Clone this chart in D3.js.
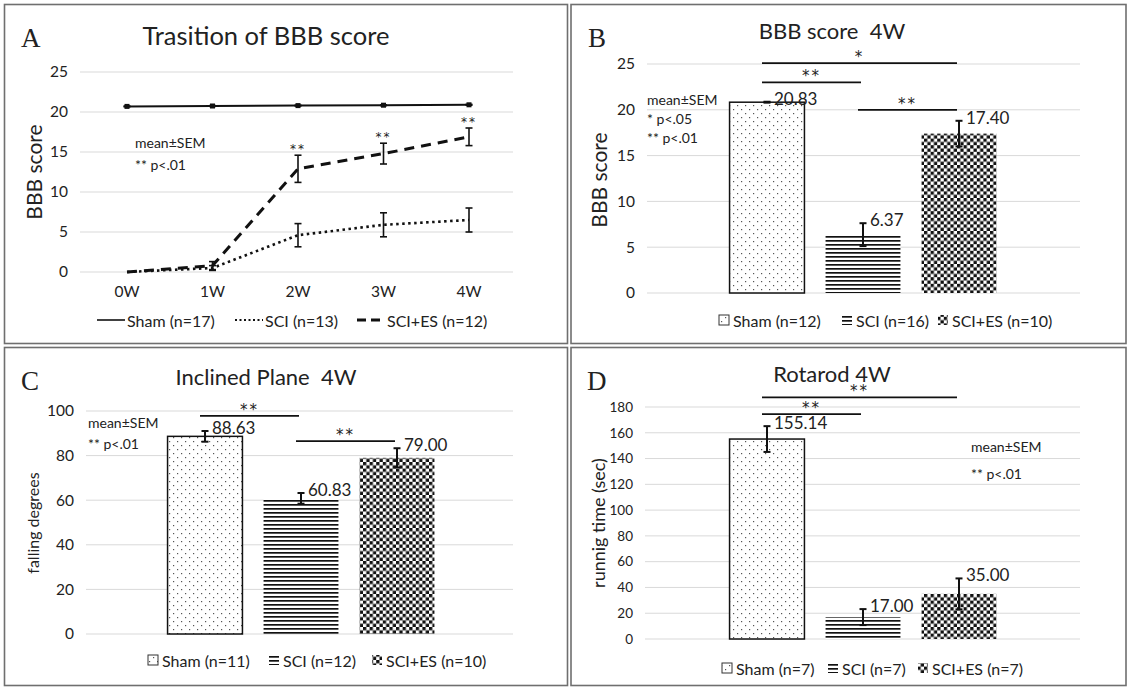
<!DOCTYPE html>
<html>
<head>
<meta charset="utf-8">
<script src="https://cdn.jsdelivr.net/npm/d3@7"></script>
<style>
  body { margin: 0; background: #fff; }
  svg text { font-family: Lato, "Noto Sans", sans-serif; fill: #222; white-space: pre; }
</style>
</head>
<body>
<svg id="fig" width="1129" height="689"></svg>
<script>
// A: BBB score over the weeks
var weeks = ["0W", "1W", "2W", "3W", "4W"];
var shamBBB = [20.7, 20.75, 20.8, 20.85, 20.9];
var shamBBBErr = [0.05, 0.05, 0.05, 0.05, 0.05];
var sciBBB = [0, 0.5, 4.6, 5.9, 6.5];
var sciBBBErr = [0, 0.3, 1.45, 1.5, 1.5];
var esBBB = [0, 0.8, 12.9, 14.8, 16.9];
var esBBBErr = [0, 0.5, 1.7, 1.3, 1.1];
var starsA = ["", "", "**", "**", "**"];
var lineLegend = ["Sham (n=17)", "SCI (n=13)", "SCI+ES (n=12)"];

// B, C, D: 4W bars
var groups = ["Sham", "SCI", "SCI+ES"];
var bbb4w = [20.83, 6.37, 17.40];
var bbb4wErr = [0.05, 1.25, 1.4];
var bbb4wN = [12, 16, 10];
var incline = [88.63, 60.83, 79.00];
var inclineErr = [2.4, 2.4, 4.3];
var inclineN = [11, 12, 10];
var rotarod = [155.14, 17.00, 35.00];
var rotarodErr = [10, 6.2, 12];
var rotarodN = [7, 7, 7];

// significance brackets: [from group, to group, height, label]
var sigB = [[0, 2, 25.1, "*"], [0, 1, 23.0, "**"], [1, 2, 20.0, "**"]];
var sigC = [[0, 1, 97.8, "**"], [1, 2, 86.5, "**"]];
var sigD = [[0, 2, 187.5, "**"], [0, 1, 174.5, "**"]];

var svg = d3.select("#fig");

// patterns
var defs = svg.append("defs");
var pDots = defs.append("pattern").attr("id", "dots")
    .attr("patternUnits", "userSpaceOnUse").attr("width", 8).attr("height", 8);
pDots.append("rect").attr("width", 8).attr("height", 8).attr("fill", "#fff");
pDots.append("rect").attr("x", 1).attr("y", 1).attr("width", 1.2).attr("height", 1.2).attr("fill", "#555");
pDots.append("rect").attr("x", 5).attr("y", 5).attr("width", 1.2).attr("height", 1.2).attr("fill", "#555");

var pLines = defs.append("pattern").attr("id", "hlines")
    .attr("patternUnits", "userSpaceOnUse").attr("width", 8).attr("height", 4);
pLines.append("rect").attr("width", 8).attr("height", 4).attr("fill", "#fff");
pLines.append("rect").attr("y", 0).attr("width", 8).attr("height", 1.7).attr("fill", "#111");

var pCheck = defs.append("pattern").attr("id", "check")
    .attr("patternUnits", "userSpaceOnUse").attr("width", 6.6).attr("height", 6.6);
pCheck.append("rect").attr("width", 6.6).attr("height", 6.6).attr("fill", "#fff");
pCheck.append("rect").attr("width", 3.3).attr("height", 3.3).attr("fill", "#111");
pCheck.append("rect").attr("x", 3.3).attr("y", 3.3).attr("width", 3.3).attr("height", 3.3).attr("fill", "#111");

var fills = ["url(#dots)", "url(#hlines)", "url(#check)"];

// panel frames
var frames = [[4.5, 4.5, 563, 339], [571, 4.5, 555, 339], [4.5, 347.5, 563, 338], [571, 347.5, 555, 338]];
svg.selectAll(".frame").data(frames).enter().append("rect")
    .attr("class", "frame")
    .attr("x", function (d) { return d[0]; })
    .attr("y", function (d) { return d[1]; })
    .attr("width", function (d) { return d[2]; })
    .attr("height", function (d) { return d[3]; })
    .attr("fill", "none").attr("stroke", "#6f6f6f").attr("stroke-width", 1.6);

function panelText(letter, lx, ly, title, tx, ty, tsize) {
  svg.append("text").attr("x", lx).attr("y", ly)
      .style("font-family", "'Liberation Serif', 'DejaVu Serif', serif")
      .attr("font-size", 27).text(letter);
  svg.append("text").attr("x", tx).attr("y", ty).attr("text-anchor", "middle")
      .attr("font-size", tsize).text(title);
}

function yAxis(y, x0, x1, ticks, fs) {
  svg.append("g").selectAll("line").data(ticks).enter().append("line")
      .attr("x1", x0).attr("x2", x1)
      .attr("y1", function (d) { return y(d); })
      .attr("y2", function (d) { return y(d); })
      .attr("stroke", "#d9d9d9").attr("stroke-width", 1);
  var g = svg.append("g").attr("transform", "translate(" + (x0 - 12) + ",0)")
      .call(d3.axisLeft(y).tickValues(ticks).tickSize(0).tickPadding(0));
  g.select(".domain").remove();
  g.selectAll("text").attr("font-size", fs).style("font-family", "Lato, 'Noto Sans', sans-serif").attr("fill", "#333");
}

function yLabel(txt, x, y, fs) {
  svg.append("text").attr("transform", "translate(" + x + "," + y + ") rotate(-90)")
      .attr("text-anchor", "middle").attr("dominant-baseline", "central")
      .attr("font-size", fs).text(txt);
}

function errBar(x, y, v, e, cap, w) {
  if (e <= 0) return;
  svg.append("line").attr("x1", x).attr("x2", x).attr("y1", y(v - e)).attr("y2", y(v + e))
      .attr("stroke", "#111").attr("stroke-width", w);
  [v - e, v + e].forEach(function (t) {
    svg.append("line").attr("x1", x - cap).attr("x2", x + cap).attr("y1", y(t)).attr("y2", y(t))
        .attr("stroke", "#111").attr("stroke-width", w);
  });
}

function notes(lines, x, y0, dy) {
  lines.forEach(function (t, i) {
    svg.append("text").attr("x", x).attr("y", y0 + i * dy).attr("font-size", 14).text(t);
  });
}

function stars(x, y, s, fs) {
  svg.append("text").attr("x", x).attr("y", y).attr("text-anchor", "middle")
      .style("font-family", "'DejaVu Sans', sans-serif")
      .attr("font-size", fs).attr("letter-spacing", 2).text(s);
}

// ---------- Panel A ----------
panelText("A", 21, 47, "Trasition of BBB score", 266, 45, 25.5);
var xA = d3.scalePoint().domain(weeks).range([127, 469]);
var yA = d3.scaleLinear().domain([0, 25]).range([272, 72]);
yAxis(yA, 80, 513, [0, 5, 10, 15, 20, 25], 15.5);
svg.append("g").selectAll("text").data(weeks).enter().append("text")
    .attr("x", function (d) { return xA(d); }).attr("y", 297)
    .attr("text-anchor", "middle").attr("font-size", 15.5).attr("fill", "#333")
    .text(function (d) { return d; });
yLabel("BBB score", 33, 172, 21);
notes(["mean\u00B1SEM", "** p<.01"], 135, 148, 22);

var seriesA = [
  {v: shamBBB, e: shamBBBErr, dash: null, w: 2},
  {v: sciBBB, e: sciBBBErr, dash: "2.5,3.5", w: 2.6},
  {v: esBBB, e: esBBBErr, dash: "10,7", w: 3}
];
var lineA = d3.line().x(function (d, i) { return xA(weeks[i]); }).y(function (d) { return yA(d); });
seriesA.forEach(function (s) {
  svg.append("path").datum(s.v).attr("d", lineA).attr("fill", "none")
      .attr("stroke", "#111").attr("stroke-width", s.w)
      .attr("stroke-dasharray", s.dash);
  s.v.forEach(function (d, i) { errBar(xA(weeks[i]), yA, d, s.e[i], 3.5, 1.6); });
});
svg.append("g").selectAll("rect").data(shamBBB).enter().append("rect")
    .attr("x", function (d, i) { return xA(weeks[i]) - 2.5; })
    .attr("y", function (d) { return yA(d) - 2.5; })
    .attr("width", 5).attr("height", 5).attr("fill", "#111");
starsA.forEach(function (s, i) {
  if (s) stars(xA(weeks[i]), yA(esBBB[i] + esBBBErr[i]) - 2, s, 12);
});

var legA = [{x: 97, dash: null, w: 1.6}, {x: 235, dash: "2,2.5", w: 2.2}, {x: 357, dash: "9,5", w: 3}];
legA.forEach(function (l, i) {
  svg.append("line").attr("x1", l.x).attr("x2", l.x + 28).attr("y1", 320).attr("y2", 320)
      .attr("stroke", "#111").attr("stroke-width", l.w).attr("stroke-dasharray", l.dash);
  svg.append("text").attr("x", l.x + 30).attr("y", 320).attr("dominant-baseline", "central")
      .attr("font-size", 16).text(lineLegend[i]);
});

// ---------- bar panels ----------
function barPanel(cfg) {
  var x = d3.scaleBand().domain(groups).range([cfg.c0 - 48, cfg.c0 + 240])
      .paddingInner(0.22).paddingOuter(0.11);
  var y = d3.scaleLinear().domain([0, cfg.max]).range([cfg.y0, cfg.y1]);
  yAxis(y, cfg.g0, cfg.g1, cfg.ticks, cfg.tickSize);
  svg.append("g").selectAll("rect").data(cfg.values).enter().append("rect")
      .attr("x", function (d, i) { return x(groups[i]); })
      .attr("y", function (d) { return y(d); })
      .attr("width", x.bandwidth())
      .attr("height", function (d) { return y(0) - y(d); })
      .attr("fill", function (d, i) { return fills[i]; })
      .attr("stroke", function (d, i) { return i === 0 ? "#111" : "none"; })
      .attr("stroke-width", 1.5);
  cfg.values.forEach(function (d, i) {
    var cx = x(groups[i]) + x.bandwidth() / 2;
    errBar(cx, y, d, cfg.errs[i], 3.5, 2);
    svg.append("text").attr("x", cx + 7).attr("y", y(d + cfg.errs[i]) + 3)
        .attr("font-size", 17).text(d.toFixed(2));
  });
  cfg.sig.forEach(function (s) {
    var xa = x(groups[s[0]]) + x.bandwidth() / 2 - 5;
    var xb = x(groups[s[1]]) + x.bandwidth() / 2 - 2;
    svg.append("line").attr("x1", xa).attr("x2", xb).attr("y1", y(s[2])).attr("y2", y(s[2]))
        .attr("stroke", "#111").attr("stroke-width", 1.8);
    stars((xa + xb) / 2, y(s[2]) - 1, s[3], 15);
  });
  // legend
  groups.forEach(function (gName, i) {
    var lx = cfg.leg[i];
    svg.append("rect").attr("x", lx).attr("y", cfg.legY - 5).attr("width", 10).attr("height", 10)
        .attr("fill", fills[i]).attr("stroke", i === 0 ? "#333" : "none").attr("stroke-width", 1);
    svg.append("text").attr("x", lx + 14).attr("y", cfg.legY).attr("dominant-baseline", "central")
        .attr("font-size", 16).text(gName + " (n=" + cfg.n[i] + ")");
  });
}

panelText("B", 588, 47, "BBB score  4W", 832, 39, 22);
yLabel("BBB score", 598, 180, 21);
notes(["mean\u00B1SEM", "* p<.05", "** p<.01"], 647, 105, 19);
barPanel({c0: 767, max: 25, y0: 293, y1: 64, g0: 647, g1: 1080, ticks: [0, 5, 10, 15, 20, 25], tickSize: 15.5,
  values: bbb4w, errs: bbb4wErr, n: bbb4wN, sig: sigB, leg: [719, 842, 938], legY: 320});

panelText("C", 21, 390, "Inclined Plane  4W", 266, 385, 22);
yLabel("falling degrees", 32, 523, 16);
notes(["mean\u00B1SEM", "** p<.01"], 88, 428, 21);
barPanel({c0: 205, max: 100, y0: 634, y1: 411, g0: 86, g1: 513, ticks: [0, 20, 40, 60, 80, 100], tickSize: 15.5,
  values: incline, errs: inclineErr, n: inclineN, sig: sigC, leg: [148, 269, 372], legY: 660});

panelText("D", 587, 390, "Rotarod 4W", 832, 382, 22);
yLabel("runnig time (sec)", 598, 523, 18);
notes(["mean\u00B1SEM", "** p<.01"], 971, 452, 27);
barPanel({c0: 767, max: 180, y0: 639, y1: 407, g0: 645, g1: 1080, ticks: d3.range(0, 181, 20), tickSize: 13.5,
  values: rotarod, errs: rotarodErr, n: rotarodN, sig: sigD, leg: [722, 828, 918], legY: 668});
</script>
</body>
</html>
